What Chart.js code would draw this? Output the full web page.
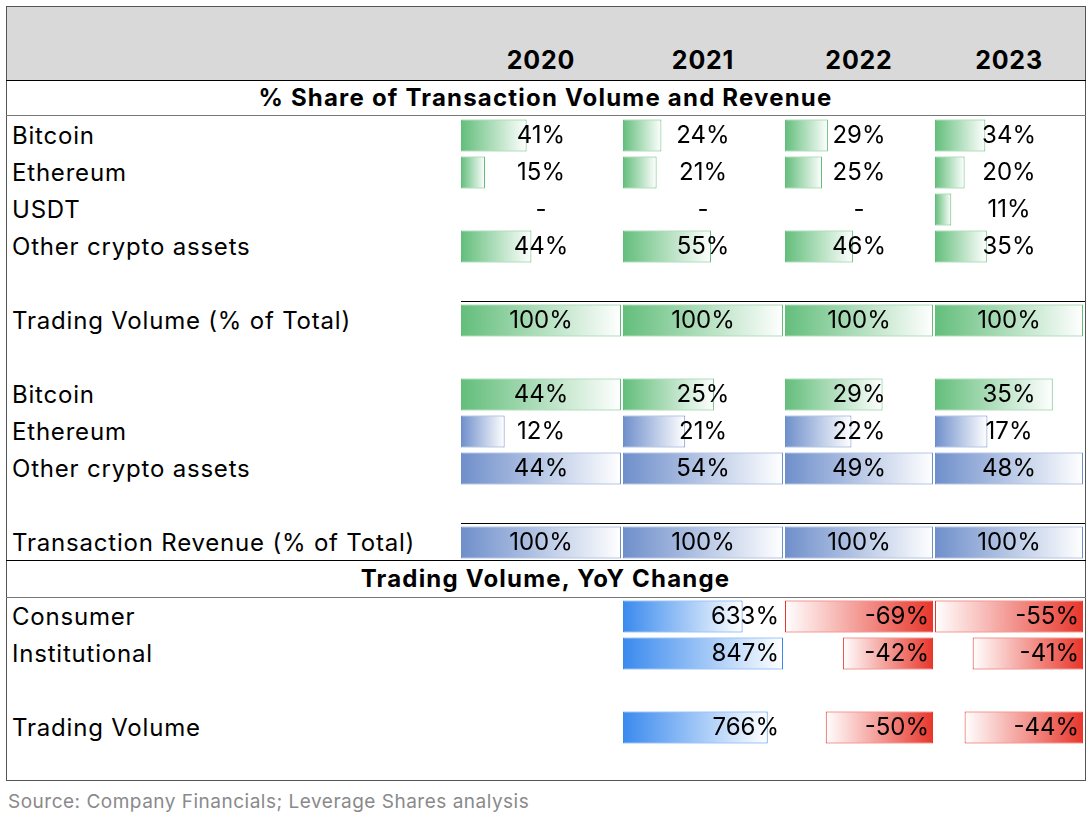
<!DOCTYPE html>
<html>
<head>
<meta charset="utf-8">
<script src="https://cdn.jsdelivr.net/npm/chart.js@4"></script>
<style>
  body { margin: 0; background: #fff; font-family: "Inter", "Roboto", sans-serif; color: #000; }
  #hoja { position: relative; width: 1090px; height: 824px; }
  .abs { position: absolute; }
  .fila { position: absolute; left: 12px; height: 37px; line-height: 37px; font-size: 24px; letter-spacing: 0.8px; white-space: nowrap; }
  .anio { position: absolute; top: 45px; font-size: 25px; font-weight: 700; letter-spacing: 0.8px; text-align: center; width: 150px; }
  .titulo { position: absolute; left: 6px; width: 1079px; text-align: center; font-size: 24px; font-weight: 700; letter-spacing: 1.2px; line-height: 36px; }
  .linea { position: absolute; background: #000; height: 1px; }
  canvas { position: absolute; }
</style>
</head>
<body>
<div id="hoja">
  <div class="abs" style="left:6px;top:6px;width:1079px;height:74px;background:#d9d9d9;"></div>
  <div class="abs" style="left:6px;top:6px;width:1078px;height:773px;border:1px solid #555;"></div>
  <div class="linea" style="left:6px;top:80px;width:1080px;"></div>
  <div class="linea" style="left:6px;top:115px;width:1080px;background:#777;"></div>
  <div class="linea" style="left:6px;top:560px;width:1080px;"></div>
  <div class="linea" style="left:6px;top:597px;width:1080px;background:#777;"></div>
  <div class="linea" style="left:461px;top:301px;width:624px;"></div>
  <div class="linea" style="left:461px;top:523px;width:624px;"></div>
  <div class="titulo" style="top:80px;">% Share of Transaction Volume and Revenue</div>
  <div class="titulo" style="top:561px;">Trading Volume, YoY Change</div>
  <div id="etiquetas"></div>
  <div class="abs" style="left:8px;top:790px;font-size:19px;letter-spacing:0.5px;color:#8a8a8a;">Source: Company Financials; Leverage Shares analysis</div>
</div>
<script>
// Datos de la tabla
var years = ["2020", "2021", "2022", "2023"];
var volBitcoin = [41, 24, 29, 34];
var volEthereum = [15, 21, 25, 20];
var volUsdt = [null, null, null, 11];
var volOther = [44, 55, 46, 35];
var volTotal = [100, 100, 100, 100];
var revBitcoin = [44, 25, 29, 35];
var revEthereum = [12, 21, 22, 17];
var revOther = [44, 54, 49, 48];
var revTotal = [100, 100, 100, 100];
var yoyConsumer = [null, 633, -69, -55];
var yoyInstitutional = [null, 847, -42, -41];
var yoyTotal = [null, 766, -50, -44];

var rowLabels = ["Bitcoin", "Ethereum", "USDT", "Other crypto assets", "", "Trading Volume (% of Total)", "",
    "Bitcoin", "Ethereum", "Other crypto assets", "", "Transaction Revenue (% of Total)", "",
    "Consumer", "Institutional", "", "Trading Volume"];
var rowSeries = [volBitcoin, volEthereum, volUsdt, volOther, null, volTotal, null,
    revBitcoin, revEthereum, revOther, null, revTotal, null,
    yoyConsumer, yoyInstitutional, null, yoyTotal];
var rowKind = ["g", "g", "g", "g", "", "g", "", "g", "b", "b", "", "b", "", "y", "y", "", "y"];

// Posicion de las columnas
var colLeft = [461, 623, 785, 935];
var colWidth = [160, 160, 148, 148];
var topFilas = 117, altoFila = 37;

var etiquetas = document.getElementById("etiquetas");
rowLabels.forEach(function (txt, i) {
    if (!txt) return;
    var d = document.createElement("div");
    d.className = "fila";
    d.style.top = (topFilas + i * altoFila) + "px";
    d.textContent = txt;
    etiquetas.appendChild(d);
});
years.forEach(function (y, c) {
    var d = document.createElement("div");
    d.className = "anio";
    d.style.left = (colLeft[c] + colWidth[c] / 2 - 75) + "px";
    d.textContent = y;
    document.getElementById("hoja").appendChild(d);
});

function absMax(arrs, c) {
    var m = 0;
    arrs.forEach(function (a) { if (a[c] != null) m = Math.max(m, Math.abs(a[c])); });
    return m;
}

// Fraccion de la barra para cada celda
function barra(r, c) {
    var s = rowSeries[r];
    if (!s || s[c] == null) return null;
    var v = s[c], f;
    if (r <= 5) f = v / 100;
    else if (r == 7) f = v / Math.max.apply(null, revBitcoin);
    else if (r == 8 || r == 9) f = v / Math.max(revEthereum[c], revOther[c]);
    else if (r == 11) f = 1;
    else {
        f = Math.abs(v) / absMax([yoyConsumer, yoyInstitutional, yoyTotal], c);
        if (v < 0) return [1 - f, 1];
    }
    return [0, f];
}

function colorFila(r, c) {
    var k = rowKind[r];
    if (k == "g") return "#63be7b";
    if (k == "b") return "#6f8fcb";
    return rowSeries[r][c] < 0 ? "#e8362b" : "#3a8aee";
}

var textoPlugin = {
    id: "textos",
    afterDatasetsDraw: function (chart) {
        var c = chart.options.columna;
        var ctx = chart.ctx, xs = chart.scales.x, ys = chart.scales.y;
        ctx.save();
        ctx.font = "24px Inter, Roboto, sans-serif";
        ctx.fillStyle = "#000";
        ctx.textBaseline = "middle";
        rowSeries.forEach(function (s, r) {
            if (!s) return;
            var v = s[c], y = ys.getPixelForValue(r);
            if (rowKind[r] == "y") {
                if (v == null) return;
                ctx.textAlign = "right";
                ctx.fillText(v + "%", xs.getPixelForValue(1) - 4, y);
            } else {
                ctx.textAlign = "center";
                ctx.fillText(v == null ? "-" : v + "%", xs.getPixelForValue(0.5), y);
            }
        });
        ctx.restore();
    }
};

years.forEach(function (y, c) {
    var cv = document.createElement("canvas");
    cv.width = colWidth[c];
    cv.height = rowLabels.length * altoFila;
    cv.style.left = colLeft[c] + "px";
    cv.style.top = topFilas + "px";
    document.getElementById("hoja").appendChild(cv);

    new Chart(cv.getContext("2d"), {
        type: "bar",
        data: {
            labels: rowLabels.map(function (l, i) { return i; }),
            datasets: [{
                data: rowLabels.map(function (l, r) { return barra(r, c); }),
                backgroundColor: function (context) {
                    if (context.type != "data" || !context.raw) return "transparent";
                    var r = context.dataIndex, xs = context.chart.scales.x;
                    var col = colorFila(r, c);
                    if (!xs) return col;
                    var a = xs.getPixelForValue(context.raw[0]), b = xs.getPixelForValue(context.raw[1]);
                    if (!isFinite(a) || !isFinite(b)) return col;
                    var neg = rowKind[r] == "y" && rowSeries[r][c] < 0;
                    var g = context.chart.ctx.createLinearGradient(neg ? b : a, 0, neg ? a : b, 0);
                    g.addColorStop(0, col);
                    g.addColorStop(1, "#ffffff");
                    return g;
                },
                borderColor: function (context) {
                    return context.raw ? colorFila(context.dataIndex, c) : "transparent";
                },
                borderWidth: 1,
                borderSkipped: false,
                barPercentage: 0.86,
                categoryPercentage: 1
            }]
        },
        options: {
            columna: c,
            indexAxis: "y",
            responsive: false,
            animation: false,
            layout: { padding: 0 },
            scales: {
                x: { display: false, min: 0, max: 1 },
                y: { display: false }
            },
            plugins: { legend: { display: false }, tooltip: { enabled: false } }
        },
        plugins: [textoPlugin]
    });
});
</script>
</body>
</html>
